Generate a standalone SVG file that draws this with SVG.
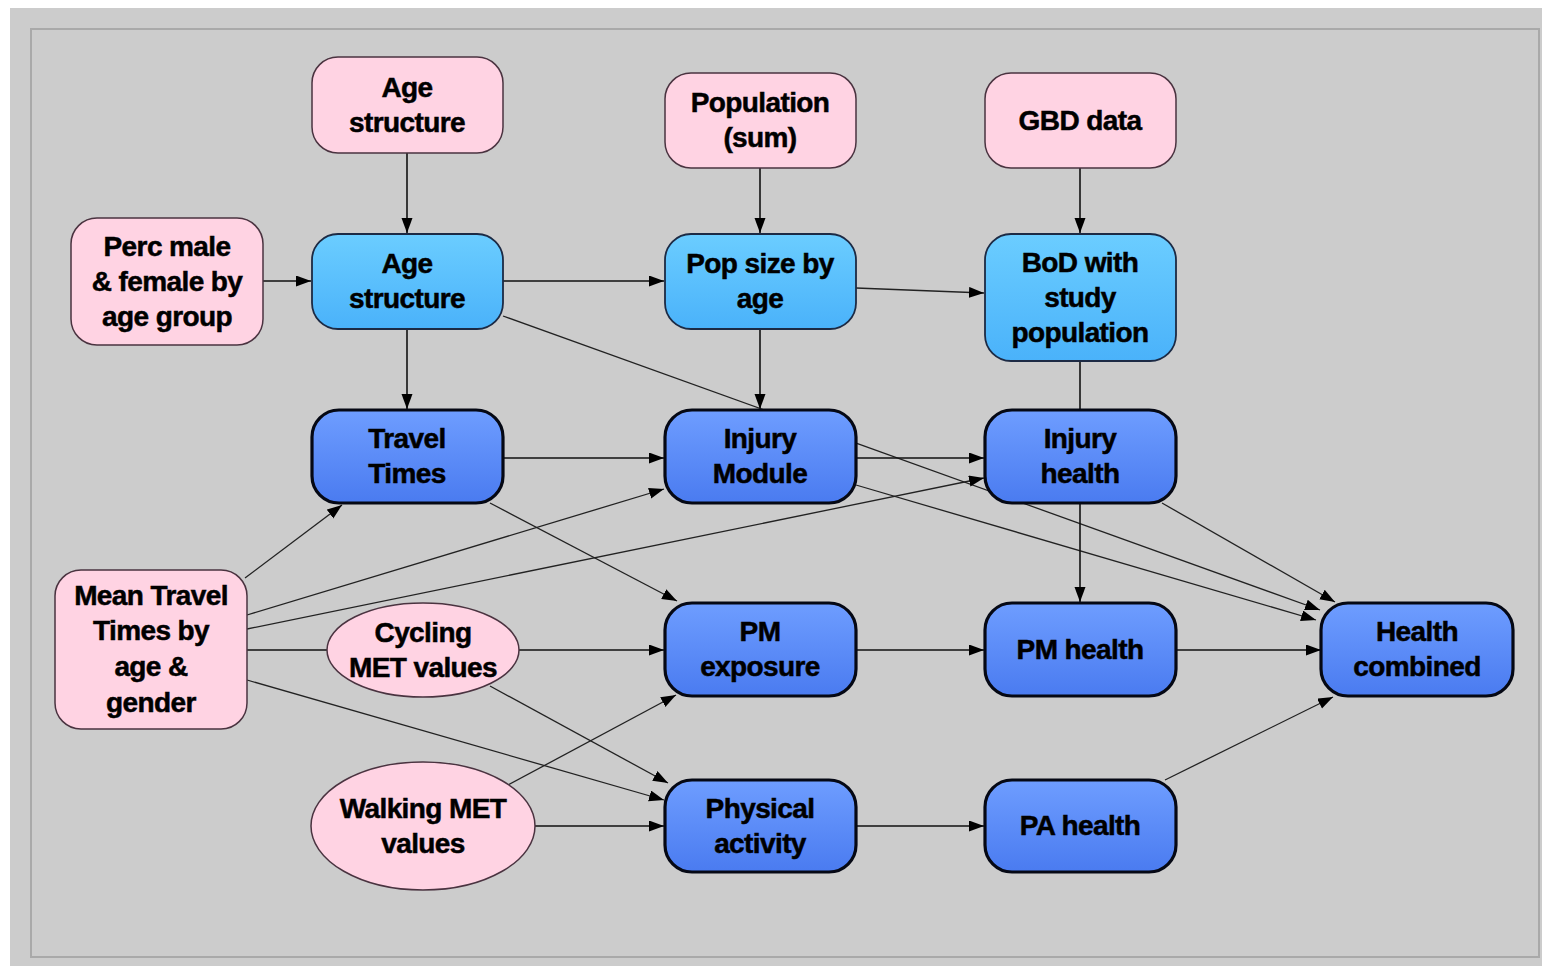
<svg xmlns="http://www.w3.org/2000/svg" width="1542" height="966" viewBox="0 0 1542 966">
<style>
.lbl{font-family:"Liberation Sans",Arial,sans-serif;font-weight:bold;font-size:28px;letter-spacing:-0.6px;text-anchor:middle;fill:#000;stroke:#000;stroke-width:0.5}
.pink{fill:#FFD3E3;stroke:#4a3340;stroke-width:1.5}
.light{fill:url(#gLight);stroke:#1c2a44;stroke-width:1.8}
.dark{fill:url(#gDark);stroke:#050814;stroke-width:3.2}
.edge{stroke:#111;stroke-width:1.6;fill:none;marker-end:url(#arr)}
.diag{stroke:#222;stroke-width:1.3;fill:none;marker-end:url(#arr)}
</style>
<defs>
<linearGradient id="gLight" x1="0" y1="0" x2="0" y2="1">
<stop offset="0" stop-color="#6BCDFF"/>
<stop offset="1" stop-color="#4AB2FA"/>
</linearGradient>
<linearGradient id="gDark" x1="0" y1="0" x2="0" y2="1">
<stop offset="0" stop-color="#6E9DFF"/>
<stop offset="1" stop-color="#4A7BF0"/>
</linearGradient>
<marker id="arr" markerUnits="userSpaceOnUse" markerWidth="16" markerHeight="12" refX="15" refY="5.5" orient="auto">
<path d="M0,0 L15,5.5 L0,11 z" fill="#000"/>
</marker>
</defs>
<rect x="0" y="0" width="1542" height="966" fill="#ffffff"/>
<rect x="10" y="8" width="1532" height="958" fill="#CCCCCC"/>
<rect x="31" y="29" width="1508" height="928" fill="none" stroke="#A9A9A9" stroke-width="2"/>

<g id="connectors">
<line class="edge" x1="407" y1="153" x2="407" y2="233"/>
<line class="edge" x1="760" y1="168" x2="760" y2="233"/>
<line class="edge" x1="1080" y1="168" x2="1080" y2="233"/>
<line class="edge" x1="263" y1="281" x2="311" y2="281"/>
<line class="edge" x1="503" y1="281" x2="664" y2="281"/>
<line class="diag" x1="856" y1="288" x2="984" y2="293"/>
<line class="edge" x1="407" y1="329" x2="407" y2="409"/>
<line class="edge" x1="760" y1="329" x2="760" y2="409"/>
<line class="diag" x1="503" y1="316" x2="1320" y2="610"/>
<line class="edge" x1="503" y1="458" x2="664" y2="458"/>
<line class="edge" x1="856" y1="458" x2="984" y2="458"/>
<line class="diag" x1="856" y1="485" x2="1316" y2="620"/>
<line class="edge" x1="1080" y1="361" x2="1080" y2="602"/>
<line class="diag" x1="1162" y1="503" x2="1335" y2="602"/>
<line class="diag" x1="490" y1="503" x2="677" y2="601"/>
<line class="diag" x1="245" y1="578" x2="342" y2="505"/>
<line class="diag" x1="247" y1="615" x2="664" y2="489"/>
<line class="diag" x1="247" y1="629" x2="984" y2="478"/>
<line class="edge" x1="247" y1="650" x2="664" y2="650"/>
<line class="diag" x1="247" y1="680" x2="664" y2="800"/>
<line class="diag" x1="490" y1="686" x2="668" y2="783"/>
<line class="diag" x1="508" y1="785" x2="676" y2="695"/>
<line class="edge" x1="535" y1="826" x2="664" y2="826"/>
<line class="edge" x1="856" y1="650" x2="984" y2="650"/>
<line class="edge" x1="1176" y1="650" x2="1321" y2="650"/>
<line class="edge" x1="856" y1="826" x2="984" y2="826"/>
<line class="diag" x1="1165" y1="780" x2="1333" y2="697"/>
</g>

<g id="age_structure_input">
<rect class="pink" x="312" y="57" width="191" height="96" rx="26"/>
<text class="lbl" x="407" y="96.5">Age</text>
<text class="lbl" x="407" y="131.5">structure</text>
</g>
<g id="population_sum">
<rect class="pink" x="665" y="73" width="191" height="95" rx="26"/>
<text class="lbl" x="760" y="112">Population</text>
<text class="lbl" x="760" y="147">(sum)</text>
</g>
<g id="gbd_data">
<rect class="pink" x="985" y="73" width="191" height="95" rx="26"/>
<text class="lbl" x="1080" y="129.5">GBD data</text>
</g>
<g id="perc_male_female">
<rect class="pink" x="71" y="218" width="192" height="127" rx="26"/>
<text class="lbl" x="167" y="255.5">Perc male</text>
<text class="lbl" x="167" y="290.5">&amp; female by</text>
<text class="lbl" x="167" y="325.5">age group</text>
</g>
<g id="age_structure">
<rect class="light" x="312" y="234" width="191" height="95" rx="26"/>
<text class="lbl" x="407" y="273">Age</text>
<text class="lbl" x="407" y="308">structure</text>
</g>
<g id="pop_size_by_age">
<rect class="light" x="665" y="234" width="191" height="95" rx="26"/>
<text class="lbl" x="760" y="273">Pop size by</text>
<text class="lbl" x="760" y="308">age</text>
</g>
<g id="bod_study_population">
<rect class="light" x="985" y="234" width="191" height="127" rx="26"/>
<text class="lbl" x="1080" y="271.5">BoD with</text>
<text class="lbl" x="1080" y="306.5">study</text>
<text class="lbl" x="1080" y="341.5">population</text>
</g>
<g id="travel_times">
<rect class="dark" x="312" y="410" width="191" height="93" rx="27"/>
<text class="lbl" x="407" y="448">Travel</text>
<text class="lbl" x="407" y="483">Times</text>
</g>
<g id="injury_module">
<rect class="dark" x="665" y="410" width="191" height="93" rx="27"/>
<text class="lbl" x="760" y="448">Injury</text>
<text class="lbl" x="760" y="483">Module</text>
</g>
<g id="injury_health">
<rect class="dark" x="985" y="410" width="191" height="93" rx="27"/>
<text class="lbl" x="1080" y="448">Injury</text>
<text class="lbl" x="1080" y="483">health</text>
</g>
<g id="mean_travel_times">
<rect class="pink" x="55" y="570" width="192" height="159" rx="26"/>
<text class="lbl" x="151" y="605">Mean Travel</text>
<text class="lbl" x="151" y="640">Times by</text>
<text class="lbl" x="151" y="676">age &amp;</text>
<text class="lbl" x="151" y="712">gender</text>
</g>
<g id="cycling_met">
<ellipse class="pink" cx="423" cy="650" rx="96" ry="47"/>
<text class="lbl" x="423" y="641.5">Cycling</text>
<text class="lbl" x="423" y="676.5">MET values</text>
</g>
<g id="pm_exposure">
<rect class="dark" x="665" y="603" width="191" height="93" rx="27"/>
<text class="lbl" x="760" y="641">PM</text>
<text class="lbl" x="760" y="676">exposure</text>
</g>
<g id="pm_health">
<rect class="dark" x="985" y="603" width="191" height="93" rx="27"/>
<text class="lbl" x="1080" y="658.5">PM health</text>
</g>
<g id="health_combined">
<rect class="dark" x="1321" y="603" width="192" height="93" rx="27"/>
<text class="lbl" x="1417" y="641">Health</text>
<text class="lbl" x="1417" y="676">combined</text>
</g>
<g id="walking_met">
<ellipse class="pink" cx="423" cy="826" rx="112" ry="64"/>
<text class="lbl" x="423" y="817.5">Walking MET</text>
<text class="lbl" x="423" y="852.5">values</text>
</g>
<g id="physical_activity">
<rect class="dark" x="665" y="780" width="191" height="92" rx="27"/>
<text class="lbl" x="760" y="817.5">Physical</text>
<text class="lbl" x="760" y="852.5">activity</text>
</g>
<g id="pa_health">
<rect class="dark" x="985" y="780" width="191" height="92" rx="27"/>
<text class="lbl" x="1080" y="835">PA health</text>
</g>
</svg>
